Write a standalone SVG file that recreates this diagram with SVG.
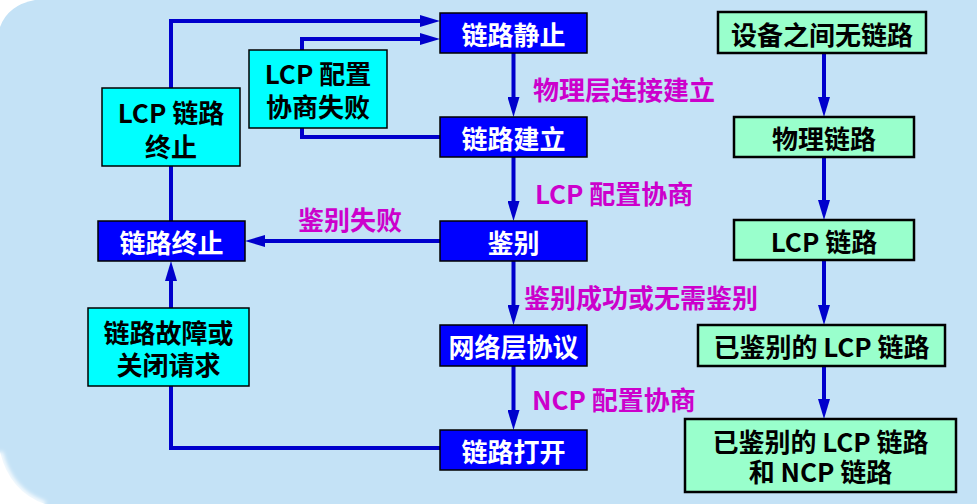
<svg xmlns="http://www.w3.org/2000/svg" width="977" height="504" viewBox="0 0 977 504">
<defs>
<style>
.bg{fill:#C4E2F6}
.line{fill:none;stroke:#0000CC;stroke-width:4}
.blue{fill:#0000FF;stroke:#000;stroke-width:1.5}
.cyan{fill:#00FFFF;stroke:#000;stroke-width:1.5}
.mint{fill:#99FFCC;stroke:#000;stroke-width:2.5}
text{font-family:"Noto Sans CJK SC","Noto Sans",sans-serif;font-weight:bold;font-size:26px;dominant-baseline:central}
.w{fill:#fff;text-anchor:middle}
.k{fill:#000;text-anchor:middle}
.m{fill:#CC00CC}
</style>
<marker id="ah" markerWidth="20" markerHeight="12" refX="0" refY="6" orient="auto" markerUnits="userSpaceOnUse" viewBox="0 0 20 12">
<path d="M0,0 L20,6 L0,12 Z" fill="#0000CC"/>
</marker>
<filter id="blur" x="-20%" y="-20%" width="140%" height="140%"><feGaussianBlur stdDeviation="2"/></filter>
</defs>
<rect width="977" height="504" fill="#fff"/>
<path class="bg" d="M35 0 L977 0 L977 504 L45 504 Q10 492 0 452 L0 27 Q8 5 35 0 Z"/>
<path d="M0 452 Q10 492 45 504" fill="none" stroke="#fff" stroke-width="5" filter="url(#blur)"/>

<g id="connectors">
<path class="line" d="M513.5 53 V97" marker-end="url(#ah)"/>
<path class="line" d="M513.5 157 V201" marker-end="url(#ah)"/>
<path class="line" d="M513.5 261 V305" marker-end="url(#ah)"/>
<path class="line" d="M513.5 366 V410" marker-end="url(#ah)"/>
<path class="line" d="M824 53 V97" marker-end="url(#ah)"/>
<path class="line" d="M824 157 V200" marker-end="url(#ah)"/>
<path class="line" d="M824 260 V305" marker-end="url(#ah)"/>
<path class="line" d="M824 366 V399" marker-end="url(#ah)"/>
<path class="line" d="M440 448 H171 V281" marker-end="url(#ah)"/>
<path class="line" d="M171 221 V21 H420" marker-end="url(#ah)"/>
<path class="line" d="M440 137 H302 V39 H420" marker-end="url(#ah)"/>
<path class="line" d="M440 241 H265" marker-end="url(#ah)"/>
</g>

<g id="labels">
<text class="m" x="533" y="88">物理层连接建立</text>
<text class="m" x="535" y="192">LCP 配置协商</text>
<text class="m" x="298" y="218">鉴别失败</text>
<text class="m" x="524" y="296">鉴别成功或无需鉴别</text>
<text class="m" x="532" y="398">NCP 配置协商</text>
</g>

<g id="n-quiet"><rect class="blue" x="440" y="13" width="147" height="40"/><text class="w" x="513.5" y="33">链路静止</text></g>
<g id="n-establish"><rect class="blue" x="440" y="117" width="147" height="40"/><text class="w" x="513.5" y="137">链路建立</text></g>
<g id="n-auth"><rect class="blue" x="440" y="221" width="147" height="40"/><text class="w" x="513.5" y="241">鉴别</text></g>
<g id="n-network"><rect class="blue" x="440" y="325" width="147" height="41"/><text class="w" x="513.5" y="345.5">网络层协议</text></g>
<g id="n-open"><rect class="blue" x="440" y="430" width="147" height="40"/><text class="w" x="513.5" y="450">链路打开</text></g>
<g id="n-terminate"><rect class="blue" x="98" y="221" width="147" height="40"/><text class="w" x="171.5" y="241">链路终止</text></g>

<g id="n-lcp-term"><rect class="cyan" x="102" y="88" width="138" height="78"/><text class="k"><tspan x="171" y="111">LCP 链路</tspan><tspan x="171" y="145">终止</tspan></text></g>
<g id="n-lcp-fail"><rect class="cyan" x="249" y="50" width="138" height="78"/><text class="k"><tspan x="318" y="72">LCP 配置</tspan><tspan x="318" y="105">协商失败</tspan></text></g>
<g id="n-fault"><rect class="cyan" x="88" y="308" width="161" height="78"/><text class="k"><tspan x="168.5" y="331">链路故障或</tspan><tspan x="168.5" y="363">关闭请求</tspan></text></g>

<g id="r-none"><rect class="mint" x="718" y="12" width="208" height="41"/><text class="k" x="822" y="33">设备之间无链路</text></g>
<g id="r-phys"><rect class="mint" x="734" y="117" width="180" height="40"/><text class="k" x="824" y="137">物理链路</text></g>
<g id="r-lcp"><rect class="mint" x="734" y="220" width="180" height="40"/><text class="k" x="824" y="240">LCP 链路</text></g>
<g id="r-auth"><rect class="mint" x="698" y="325" width="247" height="41"/><text class="k" x="821.5" y="345">已鉴别的 LCP 链路</text></g>
<g id="r-ncp"><rect class="mint" x="685" y="419" width="271" height="73"/><text class="k"><tspan x="820.5" y="440">已鉴别的 LCP 链路</tspan><tspan x="820.5" y="470">和 NCP 链路</tspan></text></g>
</svg>
